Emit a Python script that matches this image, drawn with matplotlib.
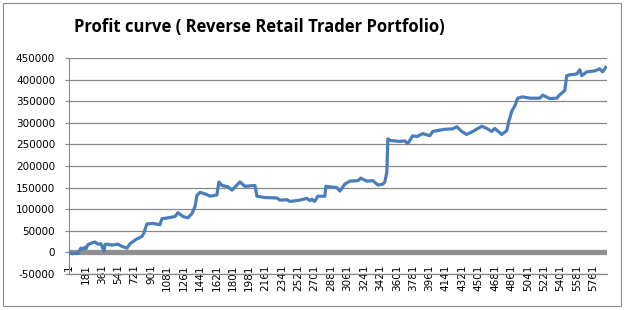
"""Profit curve of the Reverse Retail Trader portfolio (Excel-style line chart)."""

import matplotlib
matplotlib.use("Agg")
import matplotlib.pyplot as plt
from matplotlib.patches import Rectangle

TITLE = "Profit curve ( Reverse Retail Trader Portfolio)"

# trade number (category index) and cumulative profit
trade_idx = [
    1, 34, 100, 132, 154, 176, 187, 209, 253, 286, 319, 352, 385, 396, 418,
    473, 539, 583, 638, 671, 737, 803, 824, 857, 923, 1000, 1022, 1088, 1165,
    1198, 1253, 1308, 1352, 1385, 1407, 1440, 1516, 1549, 1626, 1648, 1681,
    1747, 1791, 1879, 1934, 2044, 2066, 2154, 2285, 2318, 2395, 2428, 2538,
    2614, 2647, 2669, 2700, 2735, 2812, 2823, 2943, 2977, 3031, 3086, 3174,
    3207, 3273, 3339, 3394, 3449, 3471, 3493, 3504, 3526, 3635, 3691, 3723,
    3778, 3822, 3888, 3965, 3998, 4074, 4130, 4217, 4261, 4316, 4371, 4437,
    4536, 4591, 4646, 4679, 4756, 4811, 4833, 4866, 4899, 4931, 4986, 5063,
    5173, 5206, 5283, 5360, 5393, 5427, 5449, 5469, 5502, 5580, 5613, 5635,
    5690, 5777, 5831, 5864, 5897,
]
profit = [
    0, -3000, -2000, 10000, 8000, 12000, 8000, 18000, 22000, 24000, 19000,
    20000, 3000, 18000, 19000, 17000, 19000, 14000, 10000, 20000, 30000,
    37000, 45000, 66000, 67000, 64000, 78000, 80000, 83000, 92000, 83000,
    80000, 90000, 106000, 132000, 139000, 134000, 130000, 133000, 163000,
    155000, 152000, 144000, 163000, 153000, 155000, 130000, 127000, 126000,
    121000, 122000, 118000, 121000, 125000, 120000, 123000, 118000, 130000,
    130000, 153000, 150000, 142000, 158000, 165000, 166000, 172000, 165000,
    166000, 156000, 158000, 163000, 186000, 263000, 259000, 257000, 258000,
    252000, 270000, 268000, 275000, 270000, 280000, 283000, 285000, 286000,
    291000, 280000, 273000, 280000, 292000, 287000, 280000, 287000, 273000,
    282000, 303000, 327000, 339000, 357000, 360000, 357000, 357000, 364000,
    356000, 357000, 365000, 371000, 375000, 409000, 411000, 413000, 423000,
    409000, 418000, 420000, 425000, 418000, 428000,
]

x_ticks = list(range(1, 5762, 180))
y_ticks = list(range(-50000, 450001, 50000))

LINE_BLUE = "#4A7EBB"
GRID_GRAY = "#888888"

fig = plt.figure(figsize=(6.25, 3.1), dpi=100)
fig.patches.append(Rectangle((3 / 625, 4 / 310), 618 / 625, 303 / 310,
                             transform=fig.transFigure, fill=False,
                             edgecolor="#8c8c8c", linewidth=0.8))

ax = fig.add_axes([69 / 625, 1 - 274 / 310, 538 / 625, 216 / 310])
ax.plot(trade_idx, profit, color=LINE_BLUE, linewidth=2.3, zorder=3)
# category axis sits at zero; its dense tick marks read as a grey band
ax.axhline(0, color="#8f8f8f", linewidth=3.8, zorder=2)

ax.set_xlim(1, 5912)
ax.set_ylim(-50000, 450000)
ax.set_yticks(y_ticks)
ax.set_yticklabels([str(v) for v in y_ticks])
ax.set_xticks(x_ticks)
ax.set_xticklabels([str(v) for v in x_ticks], rotation=90)
ax.grid(axis="y", color=GRID_GRAY, linewidth=0.9)
ax.set_axisbelow(True)
ax.axhline(-50000, color=GRID_GRAY, linewidth=0.9, clip_on=False, zorder=1)

for side in ("top", "right", "bottom"):
    ax.spines[side].set_visible(False)
ax.spines["left"].set_color(GRID_GRAY)
ax.tick_params(axis="y", length=3, color=GRID_GRAY, labelsize=7.5, pad=7)
ax.tick_params(axis="x", length=0, labelsize=7.5, pad=-7)
for lbl in ax.get_xticklabels():
    lbl.set_va("top")

fig.text(259 / 625, 1 - 27 / 310, TITLE, ha="center", va="center",
         fontsize=12, fontweight="bold", family=["Open Sans", "DejaVu Sans"])

fig.savefig("out.png", dpi=100, facecolor="white")
